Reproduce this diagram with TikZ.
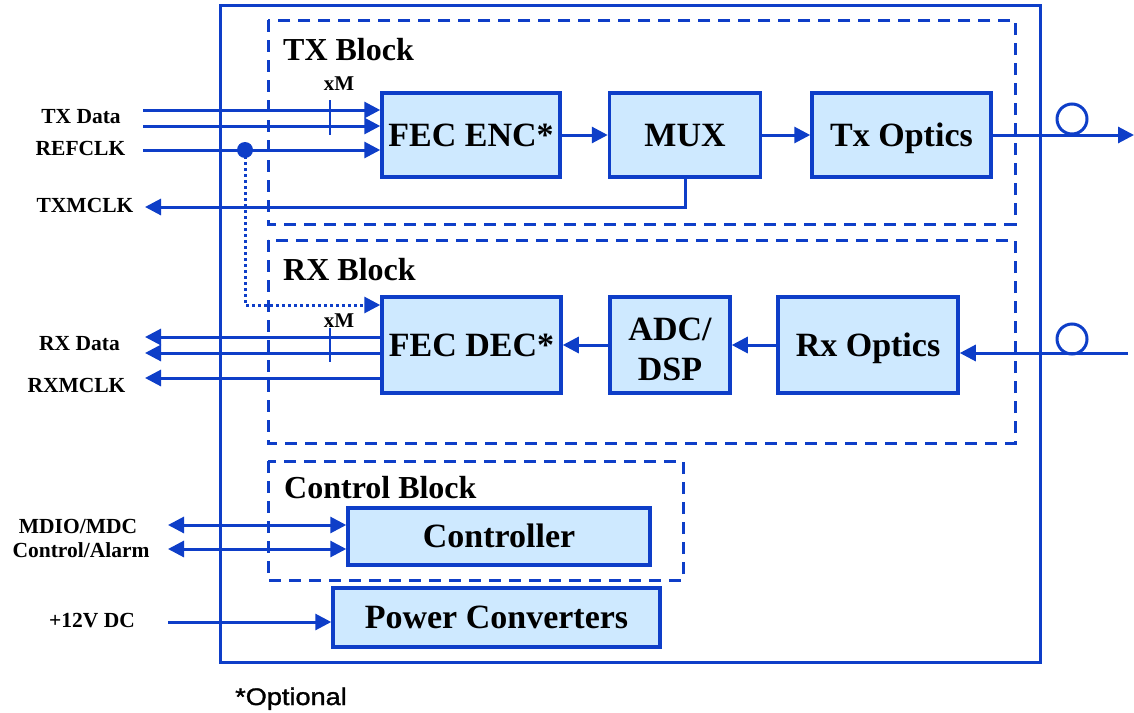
\documentclass[tikz,border=0pt]{standalone}
\usepackage{fontspec}
\setmainfont{Liberation Serif}
\newfontfamily\optfont[FakeBold=1.2]{Liberation Sans}
\usetikzlibrary{arrows.meta}
\definecolor{ln}{RGB}{14,62,200}
\definecolor{bf}{RGB}{206,233,255}
\begin{document}
\begin{tikzpicture}[x=1pt,y=-1pt,
  blk/.style={draw=ln, fill=bf, line width=3.5pt, inner sep=0pt,
    font=\bfseries\fontsize{34}{40}\selectfont, text height=22.5pt, text depth=0pt},
  boxtxt/.style={inner sep=0pt, align=center, font=\bfseries\fontsize{34}{40}\selectfont},
  dblk/.style={draw=ln, line width=3pt, dash pattern=on 12pt off 8pt},
  outerbox/.style={draw=ln, line width=3pt},
  blklbl/.style={inner sep=0pt, anchor=base west, font=\bfseries\fontsize{32}{36}\selectfont},
  lbl/.style={inner sep=0pt, anchor=base, font=\bfseries\fontsize{21.5}{24}\selectfont},
  xmlbl/.style={inner sep=0pt, anchor=base, font=\bfseries\fontsize{21}{24}\selectfont},
  sig/.style={draw=ln, line width=3pt, -{Triangle[length=16pt,width=16pt]}},
  sigb/.style={draw=ln, line width=3pt, {Triangle[length=16pt,width=16pt]}-{Triangle[length=16pt,width=16pt]}},
  dotsig/.style={draw=ln, line width=3pt, dash pattern=on 3pt off 3pt, -{Triangle[length=16pt,width=16pt]}},
  tick/.style={draw=ln, line width=1.3pt},
  fiber/.style={circle, draw=ln, line width=3pt, minimum size=30pt, inner sep=0pt}
]
\useasboundingbox (0,0) rectangle (1134,712);
\fill[white] (0,0) rectangle (1134,712);

% outer module box and dashed blocks
\draw[outerbox] (220,5) rectangle (1040,662);
\draw[dblk] (268,20) rectangle (1015,224);
\draw[dblk] (268,240) rectangle (1015,443);
\draw[dblk] (268,461) rectangle (683,580);

\node[blklbl] (txb) at (283,60) {TX Block};
\node[blklbl] (rxb) at (283,280) {RX Block};
\node[blklbl] (ctb) at (284,498) {Control Block};

% TX blocks
\node[blk, minimum width=178pt, minimum height=84pt] (enc) at (471,135) {FEC ENC*};
\node[blk, minimum width=151pt, minimum height=84pt] (mux) at (685,135) {MUX};
\node[blk, minimum width=179pt, minimum height=84pt] (txo) at (901.5,135) {Tx Optics};

% RX blocks
\node[blk, minimum width=179pt, minimum height=96pt] (dec) at (471.5,345) {FEC DEC*};
\node[blk, minimum width=120pt, minimum height=96pt] (adc) at (670,345) {};
\node[boxtxt] (adctxt) at (670,349) {ADC/\\DSP};
\node[blk, minimum width=180pt, minimum height=96pt] (rxo) at (868,345) {Rx Optics};

% control
\node[blk, minimum width=302pt, minimum height=57pt] (ctl) at (499,536.5) {Controller};
\node[blk, minimum width=327pt, minimum height=59pt] (pwr) at (496.5,617.5) {Power Converters};

% left labels
\node[lbl] (ltxd) at (81,123) {TX Data};
\node[lbl] (lref) at (80.5,155) {REFCLK};
\node[lbl] (ltxm) at (85,212) {TXMCLK};
\node[lbl] (lrxd) at (79.5,350) {RX Data};
\node[lbl] (lrxm) at (76.5,392) {RXMCLK};
\node[lbl] (lmd) at (78,533) {MDIO/MDC};
\node[lbl] (lca) at (81,557) {Control/Alarm};
\node[lbl] (lpw) at (92,627) {+12V DC};
\node[xmlbl] (xm1) at (339,90) {xM};
\node[xmlbl] (xm2) at (339,327) {xM};

% free ends
\coordinate (txd1) at (143,110);
\coordinate (txd2) at (143,126);
\coordinate (ref) at (143,150);
\coordinate (txm) at (145,207);
\coordinate (rxd1) at (145,337);
\coordinate (rxd2) at (145,353);
\coordinate (rxm) at (145,378);
\coordinate (md1) at (168,525);
\coordinate (ca1) at (168,549);
\coordinate (pw) at (168,622);
\coordinate (fout) at (1134,133);
\coordinate (fin) at (1128,353);
\coordinate (rfy) at (0,305);

% TX inputs
\draw[sig] (txd1) -- (txd1 -| enc.west);
\draw[sig] (txd2) -- (txd2 -| enc.west);
\draw[sig] (ref) -- (ref -| enc.west);
\fill[ln] (245,150) circle (8pt) coordinate (dot);
\draw[dotsig] (dot) |- (dec.west |- rfy);
\draw[tick] (330,100) -- (330,135);

% TX chain
\draw[sig] (enc.east) -- (mux.west);
\draw[sig] (mux.east) -- (txo.east -| txo.west);
\draw[sig] (txo.east) -- (txo.east -| fout);
\node[fiber] (f1) at (1072,119) {};
\draw[sig] (mux.south) |- (txm);

% RX chain
\draw[sig] (fin) -- (fin -| rxo.east);
\node[fiber] (f2) at (1072,339) {};
\draw[sig] (rxo.west) -- (adc.east);
\draw[sig] (adc.west) -- (dec.east);
\draw[sig] (rxd1 -| dec.west) -- (rxd1);
\draw[sig] (rxd2 -| dec.west) -- (rxd2);
\draw[sig] (rxm -| dec.west) -- (rxm);
\draw[tick] (330,328) -- (330,362);

% control and power
\draw[sigb] (md1) -- (md1 -| ctl.west);
\draw[sigb] (ca1) -- (ca1 -| ctl.west);
\draw[sig] (pw) -- (pw -| pwr.west);

\node[inner sep=0pt, anchor=base west, font=\optfont\fontsize{24}{28}\selectfont] (opt) at (235,705) {\scalebox{1.13}[1]{*Optional}};
\end{tikzpicture}
\end{document}
